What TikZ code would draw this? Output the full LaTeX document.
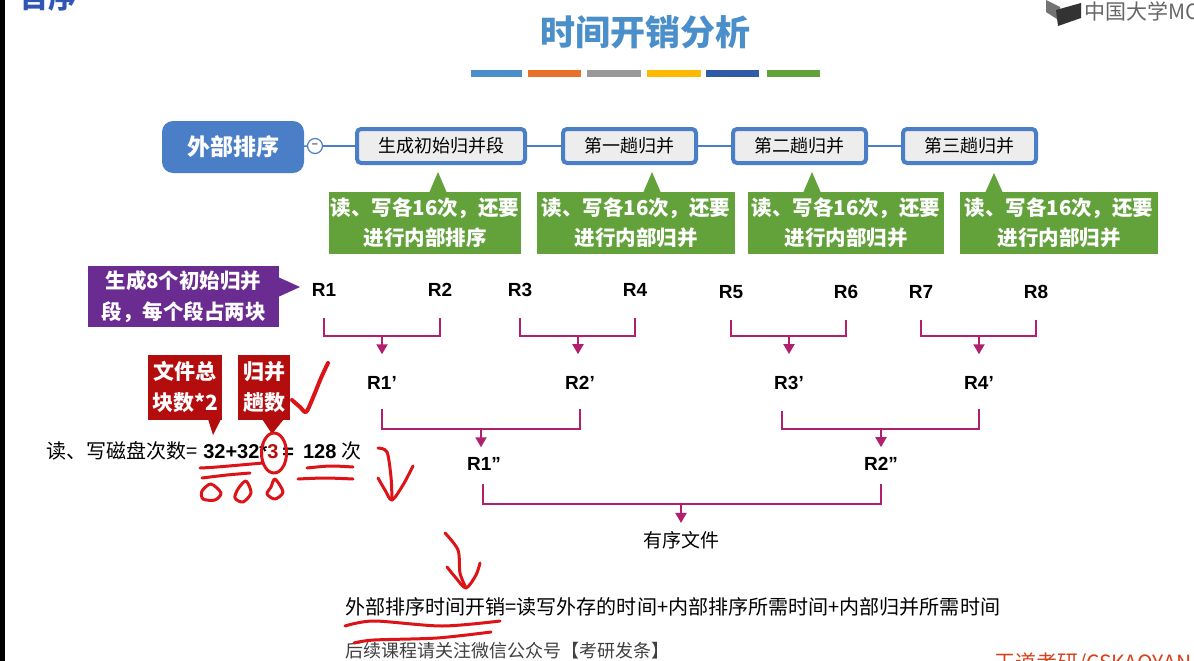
\documentclass[tikz,border=0pt]{standalone}
\usepackage{fontspec}
\setmainfont{Noto Sans CJK SC}
\newfontfamily\arialfont{Liberation Sans}
\usetikzlibrary{arrows.meta,positioning,calc}
\definecolor{titleblue}{HTML}{4A8FC9}
\definecolor{boxblue}{HTML}{4A7FC7}
\definecolor{notegreen}{HTML}{63A23B}
\definecolor{notepurple}{HTML}{6A2C91}
\definecolor{notered}{HTML}{B30D0D}
\definecolor{mergepink}{HTML}{B0206E}
\definecolor{inkred}{HTML}{DC1418}
\definecolor{barorange}{HTML}{E8702A}
\definecolor{baryellow}{HTML}{FFB900}
\definecolor{barblue}{HTML}{2F5BA8}
\definecolor{cornerblue}{HTML}{2F55B5}
\definecolor{brandred}{HTML}{D8401A}

\begin{document}
\begin{tikzpicture}[
    x=1pt, y=-1pt,
    rootbox/.style={fill=boxblue, rounded corners=11pt, minimum width=142pt, minimum height=52pt,
      text=white, font=\fontsize{23}{26}\selectfont\bfseries, inner sep=0pt},
    passbox/.style={draw=boxblue, line width=4pt, fill=black!7, rounded corners=4pt,
      minimum height=34pt, font=\fontsize{18}{20}\selectfont, inner sep=0pt},
    link/.style={draw=boxblue, line width=1.6pt},
    greennote/.style={fill=notegreen, align=center, minimum height=62pt, inner sep=0pt,
      text=white, font=\fontsize{20.5}{30}\selectfont\bfseries},
    rednote/.style={fill=notered, align=center, minimum height=65pt, inner sep=0pt,
      text=white, font=\fontsize{21}{31}\selectfont\bfseries},
    run/.style={font=\fontsize{19}{20}\selectfont\arialfont\bfseries, inner sep=2pt},
    bracket/.style={draw=mergepink, line width=2pt, shorten <=19pt, shorten >=19pt},
    arrow/.style={-{Triangle[width=11pt,length=10pt]}, draw=mergepink, fill=mergepink,
      line width=2pt, shorten >=20pt},
    ink/.style={draw=inkred, line width=3pt, line cap=round, line join=round}
  ]
    \useasboundingbox (0,0) rectangle (1194,661);
    \clip (0,0) rectangle (1194,661);
    \fill[white] (0,0) rectangle (1194,661);
    \fill[black] (0,0) rectangle (5,661);

    % header
    \node[text=cornerblue, font=\fontsize{28}{30}\selectfont\bfseries, inner sep=0pt] (corner) at (48,-2) {目序};
    \node[text=titleblue, font=\fontsize{35}{38}\selectfont\bfseries, inner sep=0pt] (title) at (645,32) {时间开销分析};
    \fill[black!55] (1046,0) -- (1060,7) -- (1060,21) -- (1046,12) -- cycle;
    \fill[black!80] (1056,10) -- (1081,3) -- (1081,18) -- (1058,26) -- cycle;
    \node[text=black!60, anchor=west, font=\fontsize{21}{24}\selectfont, inner sep=0pt] (logo) at (1084,11) {中国大学MO};

    \fill[titleblue] (471,70) rectangle (522,77);
    \fill[barorange] (528,70) rectangle (581,77);
    \fill[black!40] (587,70) rectangle (641,77);
    \fill[baryellow] (647,70) rectangle (701,77);
    \fill[barblue] (706,70) rectangle (759,77);
    \fill[notegreen] (767,70) rectangle (820,77);

    % mind map row
    \node[rootbox] (root) at (233,147) {外部排序};
    \node[draw=boxblue, fill=white, circle, line width=1.2pt, minimum size=15pt, inner sep=0pt,
      font=\fontsize{11}{11}\selectfont] (minus) at (315,146) {−};
    \node[passbox, minimum width=168pt] (gen) at (441,146) {生成初始归并段};
    \node[passbox, minimum width=133pt, right=34pt of gen] (pass1) {第一趟归并};
    \node[passbox, minimum width=133pt, right=33pt of pass1] (pass2) {第二趟归并};
    \node[passbox, minimum width=133pt, right=33pt of pass2] (pass3) {第三趟归并};
    \draw[link] (root) -- (minus);
    \draw[link] (minus) -- (gen);
    \draw[link] (gen) -- (pass1);
    \draw[link] (pass1) -- (pass2);
    \draw[link] (pass2) -- (pass3);

    % green notes
    \node[greennote, minimum width=192pt] (note0) at (425,223) {读、写各16次，还要\\进行内部排序};
    \node[greennote, minimum width=198pt] (note1) at (636,223) {读、写各16次，还要\\进行内部归并};
    \node[greennote, minimum width=196pt] (note2) at (846,223) {读、写各16次，还要\\进行内部归并};
    \node[greennote, minimum width=198pt] (note3) at (1059,223) {读、写各16次，还要\\进行内部归并};
    \fill[notegreen] (429,193) -- (438,172) -- (447,193) -- cycle;
    \fill[notegreen] (643,193) -- (652,172) -- (661,193) -- cycle;
    \fill[notegreen] (803,193) -- (812,172) -- (821,193) -- cycle;
    \fill[notegreen] (985,193) -- (994,173) -- (1003,193) -- cycle;

    % side notes
    \node[fill=notepurple, align=center, minimum width=191pt, minimum height=61pt, inner sep=0pt,
      text=white, font=\fontsize{20.5}{31}\selectfont\bfseries] (purple) at (183.5,296.5) {生成8个初始归并\\段，每个段占两块};
    \fill[notepurple] (278,277) -- (300,287) -- (278,297) -- cycle;
    \node[rednote, minimum width=74pt] (total) at (185,387) {文件总\\块数*2};
    \node[rednote, minimum width=52pt] (passes) at (264,387) {归并\\趟数};
    \fill[notered] (208,419) -- (213,435) -- (221,419) -- cycle;
    \fill[notered] (262,419) -- (272,434) -- (284,419) -- cycle;

    % merge tree
    \node[run] (r1) at (324,290) {R1};
    \node[run] (r2) at (440,290) {R2};
    \node[run] (r3) at (520,290) {R3};
    \node[run] (r4) at (635,290) {R4};
    \node[run] (r5) at (731,292) {R5};
    \node[run] (r6) at (846,292) {R6};
    \node[run] (r7) at (921,292) {R7};
    \node[run] (r8) at (1036,292) {R8};
    \node[run] (p1) at (382,383) {R1’};
    \node[run] (p2) at (580,383) {R2’};
    \node[run] (p3) at (789,383) {R3’};
    \node[run] (p4) at (979,383) {R4’};
    \node[run] (q1) at (484,464) {R1”};
    \node[run] (q2) at (881,464) {R2”};
    \node[font=\fontsize{19}{22}\selectfont, inner sep=2pt] (sorted) at (681,540) {有序文件};

    \coordinate (j1) at (382,336);
    \coordinate (j2) at (578,336);
    \coordinate (j3) at (789,336);
    \coordinate (j4) at (979,336);
    \coordinate (j5) at (481,429);
    \coordinate (j6) at (881,429);
    \coordinate (j7) at (681,504);

    \draw[bracket] (r1) |- (j1) -| (r2);
    \draw[bracket] (r3) |- (j2) -| (r4);
    \draw[bracket] (r5) |- (j3) -| (r6);
    \draw[bracket] (r7) |- (j4) -| (r8);
    \draw[bracket, shorten <=17pt, shorten >=17pt] (p1) |- (j5) -| (p2);
    \draw[bracket, shorten <=28pt, shorten >=17pt] ([xshift=-7pt]p3.center) |- (j6) -| (p4);
    \draw[bracket, shorten <=11pt, shorten >=11pt] ([xshift=-1pt]q1.south) |- (j7) -| (q2);
    \draw[arrow] (j1) -- (p1);
    \draw[arrow] (j2) -- (j2 |- p2.north);
    \draw[arrow] (j3) -- (p3);
    \draw[arrow] (j4) -- (p4);
    \draw[arrow, shorten >=8pt] (j5) -- (j5 |- q1.north);
    \draw[arrow, shorten >=8pt] (j6) -- (q2);
    \draw[arrow, shorten >=6pt] (j7) -- (sorted);

    % formulas
    \node[anchor=west, inner sep=0pt, font=\fontsize{20}{22}\selectfont] (count) at (46,451)
      {读、写磁盘次数=\hspace{6pt}{\arialfont\bfseries 32+32*\textcolor{notered}{3}\hspace{4pt}=\hspace{9pt}128}\hspace{5pt}次};
    \node[anchor=west, inner sep=0pt, font=\fontsize{20.05}{24}\selectfont] (cost) at (345,607)
      {外部排序时间开销=读写外存的时间+内部排序所需时间+内部归并所需时间};
    \node[anchor=west, inner sep=0pt, text=black!75, font=\fontsize{18}{20}\selectfont] (follow) at (345,651)
      {后续课程请关注微信公众号【考研发条】};
    \node[anchor=west, inner sep=0pt, text=brandred, font=\fontsize{21}{24}\selectfont] (brand) at (994,664)
      {王道考研/CSKAOYAN};

    % handwriting
    \draw[ink, line width=4pt] plot[smooth] coordinates {(292,400) (300,407) (306,412) (312,400) (321,378) (328,363)};
    \draw[ink] (274,453) ellipse [x radius=12.5pt, y radius=20pt];
    \draw[ink] plot[smooth] coordinates {(200,468) (217,467) (263,463)};
    \draw[ink] plot[smooth] coordinates {(202,478) (227,475) (250,473)};
    \draw[ink] plot[smooth cycle] coordinates {(211,484) (221,493) (215,500) (203,499) (202,491)};
    \draw[ink] plot[smooth cycle] coordinates {(246,481) (251,493) (243,502) (235,498) (238,489)};
    \draw[ink] plot[smooth cycle] coordinates {(275,479) (283,492) (275,499) (267,494) (271,487)};
    \draw[ink] plot[smooth] coordinates {(307,468) (330,466) (353,467)};
    \draw[ink] plot[smooth] coordinates {(298,479) (325,478) (353,479)};
    \draw[ink] plot[smooth] coordinates {(378,448) (387,452) (391,477) (392,500)};
    \draw[ink] plot[smooth] coordinates {(378,478) (385,490) (392,500) (403,485) (413,466)};
    \draw[ink] plot[smooth] coordinates {(445,533) (458,550) (460,573) (466,588)};
    \draw[ink] plot[smooth] coordinates {(447,567) (456,578) (466,588) (476,575) (480,563)};
    \draw[ink] plot[smooth] coordinates {(345,626) (374,621) (442,626) (500,621)};
    \draw[ink] plot[smooth] coordinates {(354,643) (374,640) (437,638) (491,632)};
  \end{tikzpicture}
\end{document}
